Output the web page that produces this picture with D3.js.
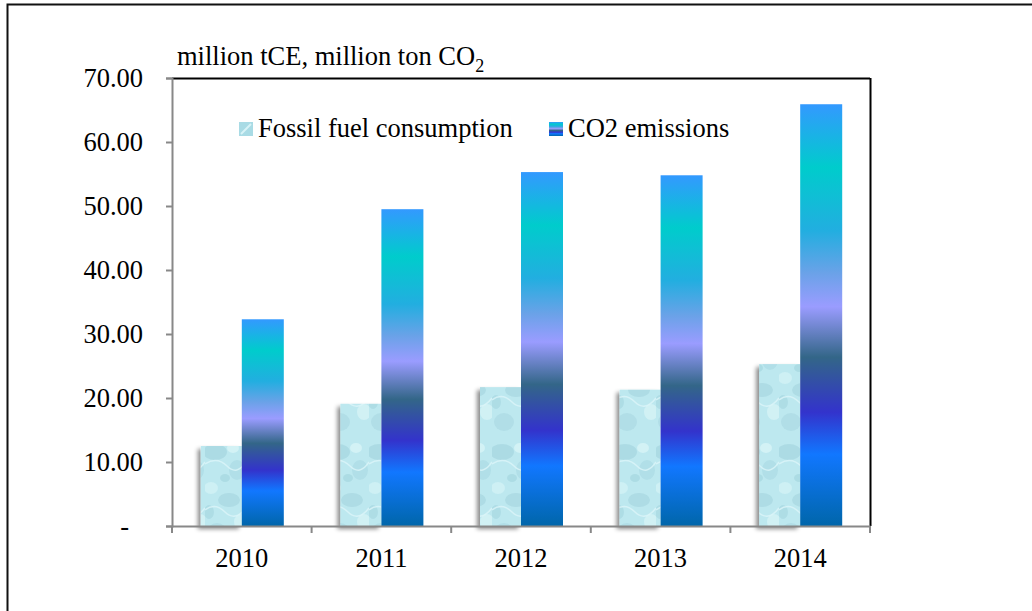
<!DOCTYPE html>
<html><head><meta charset="utf-8">
<script src="https://cdn.jsdelivr.net/npm/d3@7"></script>
<style>
html,body{margin:0;padding:0;background:#fff;}
svg{display:block;font-family:"Liberation Serif","Times New Roman",serif;}
</style></head>
<body>
<svg id="chart" width="1032" height="611"></svg>
<script>
const years = ["2010","2011","2012","2013","2014"];
const fossilFuel = [12.5, 19.1, 21.7, 21.3, 25.3];
const co2Emissions = [32.3, 49.5, 55.3, 54.8, 65.9];
const yTicks = [0,10,20,30,40,50,60,70];
const seriesNames = ["Fossil fuel consumption","CO2 emissions"];

const svg = d3.select("#chart");
const defs = svg.append("defs");
const FS = 26.5;

// outer frame
svg.append("rect").attr("x",7.5).attr("y",4.5).attr("width",1100).attr("height",700)
  .attr("fill","none").attr("stroke","#111").attr("stroke-width",2);

const m = {left:172, top:78, right:870, bottom:526};
const x = d3.scaleBand().domain(years).range([m.left,m.right]).paddingInner(0).paddingOuter(0);
const y = d3.scaleLinear().domain([0,70]).range([m.bottom,m.top]);
const barW = 41;

// gradient for CO2
const grad = defs.append("linearGradient").attr("id","co2g").attr("x1",0).attr("y1",0).attr("x2",0).attr("y2",1);
[[0,"#3399ff"],[0.15,"#00cccc"],[0.3,"#22aee0"],[0.4,"#6aa2e8"],[0.48,"#9a9cff"],[0.6,"#336688"],[0.73,"#3333cc"],[0.83,"#1177ff"],[1,"#0066aa"]]
 .forEach(s=>grad.append("stop").attr("offset",s[0]).attr("stop-color",s[1]));

// water texture for fossil
const pat = defs.append("pattern").attr("id","water").attr("patternUnits","userSpaceOnUse")
  .attr("width",41).attr("height",110);
pat.append("rect").attr("width",41).attr("height",110).attr("fill","#bde8ef");
const blobs = [
  [10,12,12,8,"#a5d6e0",0.7],[32,30,8,10,"#a9d9e2",0.6],[6,48,7,6,"#d0f1f5",0.9],
  [24,60,11,7,"#a3d3dd",0.6],[36,82,7,8,"#d3f2f6",0.9],[12,92,10,9,"#a8d7e1",0.6],
  [28,8,6,5,"#d5f3f7",0.9],[20,38,5,4,"#9ccfda",0.5],[4,72,5,7,"#a0d2dc",0.5]
];
blobs.forEach(b=>pat.append("ellipse").attr("cx",b[0]).attr("cy",b[1]).attr("rx",b[2]).attr("ry",b[3]).attr("fill",b[4]).attr("opacity",b[5]));
pat.append("path").attr("d","M0 24 Q12 16 22 26 T41 22").attr("stroke","#dcf5f9").attr("stroke-width",1.5).attr("fill","none").attr("opacity",0.8);
pat.append("path").attr("d","M0 70 Q10 62 20 72 T41 68").attr("stroke","#dcf5f9").attr("stroke-width",1.5).attr("fill","none").attr("opacity",0.8);

const lpat = defs.append("pattern").attr("id","lw").attr("patternUnits","objectBoundingBox").attr("width",1).attr("height",1);
lpat.append("rect").attr("width",14).attr("height",14).attr("fill","#a9dbe5");
lpat.append("path").attr("d","M2 12 L12 2").attr("stroke","#d8f3f7").attr("stroke-width",2);

const shadow = defs.append("filter").attr("id","sh").attr("x","-30%").attr("y","-10%").attr("width","160%").attr("height","130%");
shadow.append("feDropShadow").attr("dx",-3).attr("dy",3).attr("stdDeviation",2).attr("flood-color","#000").attr("flood-opacity",0.45);

// plot border top/right
svg.append("line").attr("x1",m.left).attr("x2",m.right).attr("y1",m.top+0.5).attr("y2",m.top+0.5).attr("stroke","#000").attr("stroke-width",2);
svg.append("line").attr("x1",m.right+0.5).attr("x2",m.right+0.5).attr("y1",m.top).attr("y2",m.bottom).attr("stroke","#000").attr("stroke-width",2);

// bars
const g = svg.append("g");
g.selectAll("rect.f").data(years).join("rect").attr("class","f")
  .attr("x",d=>x(d)+x.bandwidth()/2-barW).attr("width",barW)
  .attr("y",(d,i)=>y(fossilFuel[i])).attr("height",(d,i)=>y(0)-y(fossilFuel[i]))
  .attr("fill","url(#water)").attr("filter","url(#sh)");
g.selectAll("rect.c").data(years).join("rect").attr("class","c")
  .attr("x",d=>x(d)+x.bandwidth()/2).attr("width",barW+1)
  .attr("y",(d,i)=>y(co2Emissions[i])).attr("height",(d,i)=>y(0)-y(co2Emissions[i]))
  .attr("fill","url(#co2g)");

// y axis
const ya = svg.append("g").attr("transform",`translate(${m.left},0)`)
  .call(d3.axisLeft(y).tickValues(yTicks).tickSize(6).tickFormat(d=>d===0?"-":d3.format(".2f")(d)));
ya.select(".domain").attr("stroke","#888").attr("stroke-width",2);
ya.selectAll(".tick line").attr("stroke","#888").attr("stroke-width",2);
ya.selectAll(".tick text").attr("font-size",FS).attr("font-family","Liberation Serif").attr("fill","#000")
  .attr("x",-29).attr("dy","0.33em");
ya.selectAll(".tick").filter(d=>d===0).select("text").attr("x",-43);

// x axis
const xa = svg.append("g").attr("transform",`translate(0,${m.bottom})`)
  .call(d3.axisBottom(x).tickSize(0).tickPadding(22));
xa.select(".domain").attr("stroke","#888").attr("stroke-width",2);
xa.selectAll(".tick text").attr("font-size",FS).attr("font-family","Liberation Serif").attr("fill","#000");
const bounds = years.map(d=>x(d)).concat([x(years[years.length-1])+x.bandwidth()]);
xa.selectAll("line.b").data(bounds).join("line").attr("class","b")
  .attr("x1",d=>d).attr("x2",d=>d).attr("y1",0).attr("y2",7).attr("stroke","#888").attr("stroke-width",2);

// unit title
const t = svg.append("text").attr("x",177).attr("y",65).attr("font-size",FS).attr("fill","#000");
t.append("tspan").text("million tCE, million ton CO");
t.append("tspan").attr("font-size",18).attr("dy",7).text("2");

// legend
const fills = ["url(#lw)","url(#co2g)"];
const lx = [239,549];
seriesNames.forEach((n,i)=>{
  svg.append("rect").attr("x",lx[i]).attr("y",122).attr("width",14).attr("height",14).attr("fill",fills[i]);
  svg.append("text").attr("x",lx[i]+19).attr("y",137).attr("font-size",FS).attr("fill","#000").text(n);
});
</script>
</body></html>
